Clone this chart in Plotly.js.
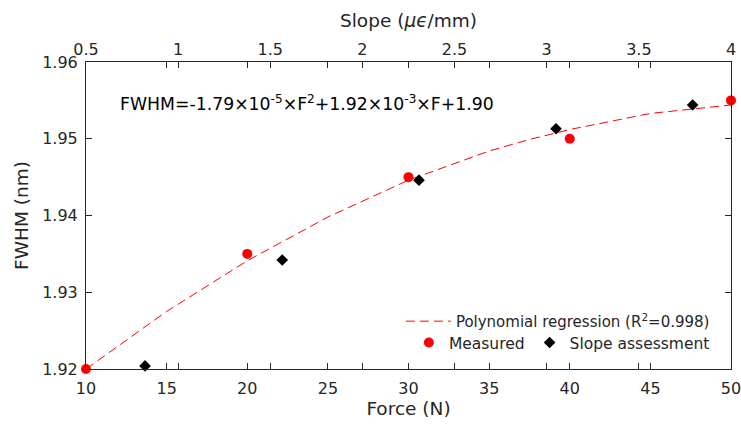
<!DOCTYPE html>
<html>
<head>
<meta charset="utf-8">
<script src="https://cdn.plot.ly/plotly-3.0.1.min.js"></script>
<style>html,body{margin:0;padding:0;background:#fff;}#chart{width:741px;height:430px;}</style>
</head>
<body>
<div id="chart"></div>
<script>
// Measured FWHM vs force
const measuredForce = [10, 20, 30, 40, 50];
const measuredFWHM = [1.9200, 1.9350, 1.9450, 1.9500, 1.9550];
// Slope assessment points (plotted on force axis)
const slopeForce = [13.66, 22.17, 30.65, 39.15, 47.62];
const slopeFWHM = [1.9204, 1.9342, 1.9446, 1.9513, 1.9544];
// Polynomial regression curve
const fitForce = [10, 15, 20, 25, 30, 35, 37.5, 40, 45, 50];
const fitFWHM = [1.9200, 1.9275, 1.9341, 1.9398, 1.9446, 1.9484, 1.9499, 1.9512, 1.9533, 1.9544];
// Tick settings
const forceTicks = [10, 15, 20, 25, 30, 35, 40, 45, 50];
const slopeTicks = [0.5, 1, 1.5, 2, 2.5, 3, 3.5, 4];
const fwhmTicks = [1.92, 1.93, 1.94, 1.95, 1.96];

const FONT = 'DejaVu Sans, Liberation Sans, Arial, sans-serif';
const TXT = '#262626';

const traces = [
  {x: fitForce, y: fitFWHM, mode: 'lines', line: {color: '#ff0000', width: 1, dash: '9px,5px'},
   name: 'Polynomial regression (R<sup>2</sup>=0.998)', legend: 'legend'},
  {x: measuredForce, y: measuredFWHM, mode: 'markers', marker: {color: '#ff0000', size: 10, symbol: 'circle'},
   name: 'Measured', legend: 'legend2', cliponaxis: false},
  {x: slopeForce, y: slopeFWHM, mode: 'markers', marker: {color: '#000000', size: 9, symbol: 'diamond'},
   name: 'Slope assessment', legend: 'legend2', cliponaxis: false},
  // empty trace that activates the top (slope) axis
  {x: [], y: [], xaxis: 'x2', yaxis: 'y', mode: 'markers', showlegend: false, hoverinfo: 'skip'}
];

const axisCommon = {
  showline: true, linecolor: TXT, linewidth: 1, ticks: 'inside', ticklen: 6, tickcolor: TXT,
  showgrid: false, zeroline: false, tickfont: {family: FONT, size: 16, color: TXT},
  ticklabeloverflow: 'allow'
};

const layout = {
  width: 741, height: 430,
  margin: {l: 86, r: 10, t: 62, b: 61},
  paper_bgcolor: '#ffffff', plot_bgcolor: '#ffffff',
  font: {family: FONT, color: TXT},
  xaxis: Object.assign({}, axisCommon, {
    range: [10, 50], tickvals: forceTicks, mirror: 'ticks', ticklabelstandoff: 5,
    title: {text: 'Force (N)', font: {family: FONT, size: 18.5, color: TXT}, standoff: 4}
  }),
  xaxis2: Object.assign({}, axisCommon, {
    range: [0.5, 4], tickvals: slopeTicks, overlaying: 'x', side: 'top', anchor: 'y', mirror: 'ticks',
    title: {text: 'Slope (<i>μϵ</i>/mm)', font: {family: FONT, size: 18.5, color: TXT}, standoff: 7}
  }),
  yaxis: Object.assign({}, axisCommon, {
    range: [1.92, 1.96], tickvals: fwhmTicks, tickformat: '.2f', mirror: 'ticks', ticklabelstandoff: 4,
    title: {text: 'FWHM (nm)', font: {family: FONT, size: 18.5, color: TXT}, standoff: 8}
  }),
  showlegend: true,
  legend: {x: 0.975, xanchor: 'right', y: 0.155, yanchor: 'middle', bgcolor: 'rgba(0,0,0,0)',
    itemwidth: 45, font: {family: FONT, size: 15, color: TXT}, borderwidth: 0},
  legend2: {x: 0.975, xanchor: 'right', y: 0.085, yanchor: 'middle', orientation: 'h', bgcolor: 'rgba(0,0,0,0)',
    font: {family: FONT, size: 15.5, color: TXT}, borderwidth: 0},
  annotations: [{
    xref: 'x', yref: 'y', x: 12.0, y: 1.9547, xanchor: 'left', yanchor: 'middle', showarrow: false,
    text: 'FWHM=-1.79×10<sup>-5</sup>×F<sup>2</sup>+1.92×10<sup>-3</sup>×F+1.90',
    font: {family: FONT, size: 17.3, color: '#000000'}
  }]
};

Plotly.newPlot('chart', traces, layout, {displayModeBar: false, staticPlot: true});
</script>
</body>
</html>
